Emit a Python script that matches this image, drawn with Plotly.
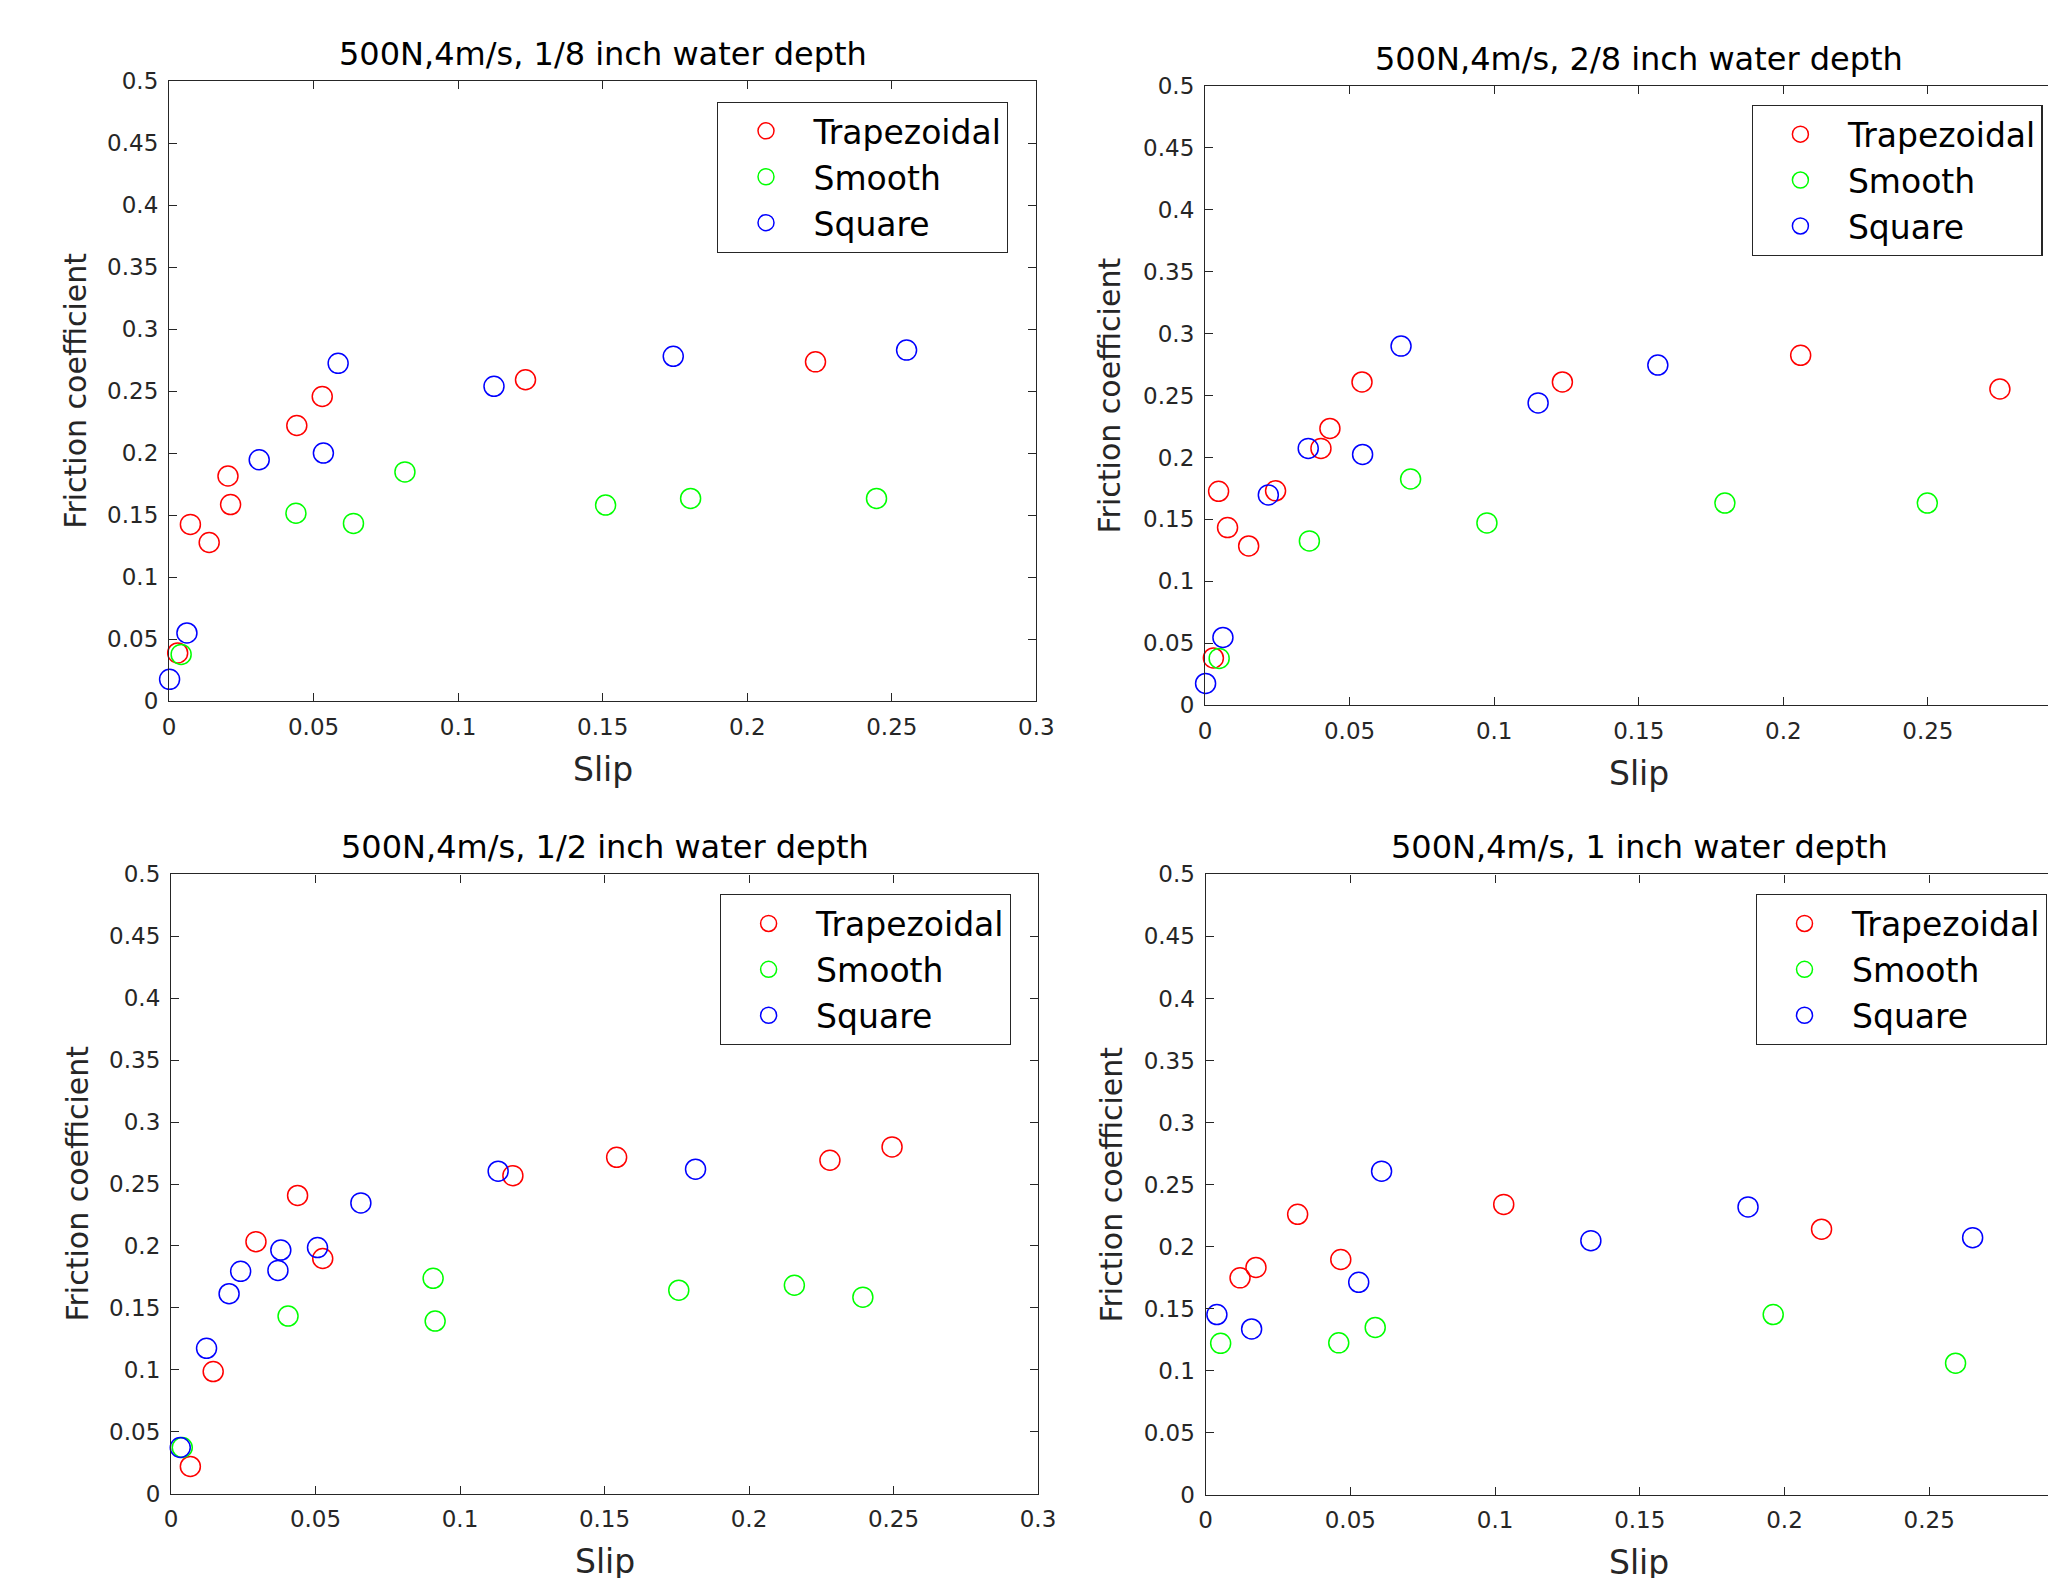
import plotly.graph_objects as go

# ---------------- data ----------------
series_names = ["Trapezoidal", "Smooth", "Square"]
series_colors = ["#ff0000", "#00ff00", "#0000ff"]

panel_titles = [
    "500N,4m/s, 1/8 inch water depth",
    "500N,4m/s, 2/8 inch water depth",
    "500N,4m/s, 1/2 inch water depth",
    "500N,4m/s, 1 inch water depth",
]
x_title = "Slip"
y_title = "Friction coefficient"

x_tick_vals = [0, 0.05, 0.1, 0.15, 0.2, 0.25, 0.3]
x_tick_text = ["0", "0.05", "0.1", "0.15", "0.2", "0.25", "0.3"]
y_tick_vals = [0, 0.05, 0.1, 0.15, 0.2, 0.25, 0.3, 0.35, 0.4, 0.45, 0.5]
y_tick_text = ["0", "0.05", "0.1", "0.15", "0.2", "0.25", "0.3", "0.35", "0.4", "0.45", "0.5"]

# Panel 1: 1/8 inch
p1_trap_slip = [0.003, 0.0074, 0.0139, 0.0204, 0.0213, 0.0442, 0.053, 0.1233, 0.2236]
p1_trap_fric = [0.039, 0.1426, 0.128, 0.1816, 0.1586, 0.2223, 0.2457, 0.2592, 0.2736]
p1_smooth_slip = [0.0042, 0.0439, 0.0638, 0.0816, 0.151, 0.1804, 0.2447]
p1_smooth_fric = [0.0378, 0.1516, 0.1434, 0.1849, 0.1582, 0.1635, 0.1635]
p1_square_slip = [0.0002, 0.0062, 0.0312, 0.0534, 0.0585, 0.1124, 0.1744, 0.2551]
p1_square_fric = [0.0177, 0.0551, 0.1947, 0.2001, 0.2724, 0.2539, 0.2781, 0.2831]

# Panel 2: 2/8 inch
p2_trap_slip = [0.0029, 0.0047, 0.0078, 0.0151, 0.0244, 0.0401, 0.0432, 0.0543, 0.1236, 0.206, 0.2749]
p2_trap_fric = [0.0383, 0.1727, 0.1434, 0.1286, 0.1731, 0.2073, 0.2234, 0.2609, 0.2609, 0.2824, 0.2552]
p2_smooth_slip = [0.0049, 0.0361, 0.0711, 0.0975, 0.1798, 0.2498]
p2_smooth_fric = [0.0379, 0.1327, 0.1826, 0.1472, 0.1632, 0.1632]
p2_square_slip = [0.0002, 0.0062, 0.0219, 0.0357, 0.0545, 0.0678, 0.1152, 0.1566]
p2_square_fric = [0.0177, 0.0548, 0.1698, 0.2073, 0.2024, 0.2898, 0.244, 0.2745]

# Panel 3: 1/2 inch
p3_trap_slip = [0.0067, 0.0146, 0.0294, 0.0438, 0.0525, 0.1183, 0.1542, 0.228, 0.2495]
p3_trap_fric = [0.022, 0.0986, 0.2035, 0.2408, 0.1899, 0.2568, 0.2716, 0.2692, 0.28]
p3_smooth_slip = [0.0039, 0.0405, 0.0907, 0.0914, 0.1757, 0.2157, 0.2394]
p3_smooth_fric = [0.0373, 0.1434, 0.1739, 0.1394, 0.1643, 0.1683, 0.1587]
p3_square_slip = [0.0032, 0.0123, 0.0201, 0.0241, 0.037, 0.038, 0.0507, 0.0657, 0.1132, 0.1815]
p3_square_fric = [0.0373, 0.1174, 0.1615, 0.1795, 0.1803, 0.1967, 0.1987, 0.2348, 0.2604, 0.262]

# Panel 4: 1 inch
p4_trap_slip = [0.0119, 0.0174, 0.0318, 0.0467, 0.103, 0.2128]
p4_trap_fric = [0.1748, 0.1832, 0.226, 0.1896, 0.234, 0.214]
p4_smooth_slip = [0.0052, 0.046, 0.0586, 0.1961, 0.2591]
p4_smooth_fric = [0.122, 0.1224, 0.1348, 0.1452, 0.106]
p4_square_slip = [0.0039, 0.0159, 0.0529, 0.0608, 0.1331, 0.1874, 0.265]
p4_square_fric = [0.1452, 0.1336, 0.1712, 0.2608, 0.2048, 0.232, 0.2072]

panels = [
    [(p1_trap_slip, p1_trap_fric), (p1_smooth_slip, p1_smooth_fric), (p1_square_slip, p1_square_fric)],
    [(p2_trap_slip, p2_trap_fric), (p2_smooth_slip, p2_smooth_fric), (p2_square_slip, p2_square_fric)],
    [(p3_trap_slip, p3_trap_fric), (p3_smooth_slip, p3_smooth_fric), (p3_square_slip, p3_square_fric)],
    [(p4_trap_slip, p4_trap_fric), (p4_smooth_slip, p4_smooth_fric), (p4_square_slip, p4_square_fric)],
]

# ---------------- layout ----------------
OFF = 8  # page body margin
WIN_W, WIN_H = 2056, 1578
W, H = WIN_W - OFF, WIN_H - OFF
FONT = "DejaVu Sans, Verdana, sans-serif"
AX_COLOR = "#262626"


def px(v):
    return (v - OFF) / W


def py(v):
    return 1 - (v - OFF) / H


# axes boxes in window pixels: (left, right, top, bottom, xmax)
boxes = [
    (169.0, 1036.4, 81.0, 701.3, 0.3),
    (1205.0, WIN_W, 85.5, 705.4, 0.2943),
    (171.0, 1038.0, 874.4, 1493.7, 0.3),
    (1205.6, WIN_W, 874.4, 1494.7, 0.2938),
]
full_right = [1036.4, 2072.0, 1038.0, 2073.0]
legend_pos = [(717.3, 101.7), (1751.7, 105.0), (719.9, 894.3), (1755.8, 894.3)]
ylab_x = [75.5, 1109.0, 77.5, 1112.0]

fig = go.Figure()
layout = dict(
    width=W, height=H, autosize=False,
    margin=dict(l=0, r=0, t=0, b=0, pad=0, autoexpand=False),
    paper_bgcolor="white", plot_bgcolor="white",
    font=dict(family=FONT, color=AX_COLOR),
    annotations=[],
)

for i, (panel, box) in enumerate(zip(panels, boxes)):
    n = i + 1
    xa = "x" if n == 1 else f"x{n}"
    ya = "y" if n == 1 else f"y{n}"
    lg = "legend" if n == 1 else f"legend{n}"
    for (xs, ys), name, col in zip(panel, series_names, series_colors):
        fig.add_trace(go.Scatter(
            x=xs, y=ys, mode="markers", name=name,
            marker=dict(symbol="circle-open", size=20, color=col, line=dict(width=1.5, color=col)),
            xaxis=xa, yaxis=ya, legend=lg, cliponaxis=False, showlegend=True,
        ))
    left, right, top, bottom, xmax = box
    clipped = right >= WIN_W
    layout["xaxis" if n == 1 else f"xaxis{n}"] = dict(
        domain=[px(left), min(px(right), 1.0)], range=[0, xmax], anchor=ya, automargin=False,
        tickmode="array", tickvals=x_tick_vals if not clipped else x_tick_vals[:-1],
        ticktext=x_tick_text if not clipped else x_tick_text[:-1],
        ticks="inside", ticklen=8, tickwidth=1, tickcolor=AX_COLOR,
        showline=True, linecolor=AX_COLOR, linewidth=1.2, mirror="ticks",
        showgrid=False, zeroline=False,
        tickfont=dict(size=23, color=AX_COLOR, family=FONT),
        ticklabelstandoff=5,
    )
    layout["yaxis" if n == 1 else f"yaxis{n}"] = dict(
        domain=[py(bottom), py(top)], range=[0, 0.5], anchor=xa, automargin=False,
        tickmode="array", tickvals=y_tick_vals, ticktext=y_tick_text,
        ticks="inside", ticklen=8, tickwidth=1, tickcolor=AX_COLOR,
        showline=True, linecolor=AX_COLOR, linewidth=1.2,
        mirror=("ticks" if not clipped else False),
        showgrid=False, zeroline=False,
        tickfont=dict(size=23, color=AX_COLOR, family=FONT),
        ticklabelstandoff=5,
    )
    lx, ly = legend_pos[i]
    layout[lg] = dict(
        x=px(lx), y=py(ly), xanchor="left", yanchor="top",
        bgcolor="white", bordercolor=AX_COLOR, borderwidth=1.2,
        font=dict(size=33, color="black", family=FONT),
        itemwidth=85, tracegroupgap=0,
    )
    cx = (left + full_right[i]) / 2
    layout["annotations"] += [
        dict(text=panel_titles[i], x=px(cx), y=py(top - 27), xref="paper", yref="paper",
             xanchor="center", yanchor="middle", showarrow=False,
             font=dict(size=32, color="black", family=FONT)),
        dict(text=x_title, x=px(cx), y=py(bottom + 68), xref="paper", yref="paper",
             xanchor="center", yanchor="middle", showarrow=False,
             font=dict(size=33, color=AX_COLOR, family=FONT)),
        dict(text=y_title, x=px(ylab_x[i]), y=py((top + bottom) / 2), xref="paper", yref="paper",
             xanchor="center", yanchor="middle", showarrow=False, textangle=-90,
             font=dict(size=30, color=AX_COLOR, family=FONT)),
    ]

fig.update_layout(**layout)
fig.write_html("out.html")
